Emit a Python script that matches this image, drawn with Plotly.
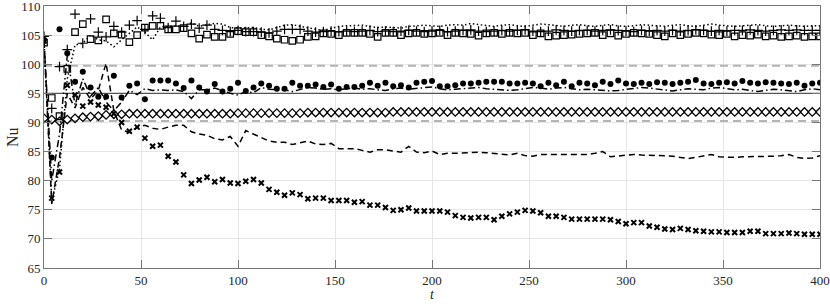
import plotly.graph_objects as go

# time samples (every 4 time units)
t = list(range(0, 401, 4))

nu_diamond = [
    90.7, 90.5, 90.2, 90.5, 90.7, 90.9, 91.0, 91.1, 91.3, 91.4,
    91.4, 91.5, 91.5, 91.5, 91.5, 91.5, 91.5, 91.5, 91.5, 91.5,
    91.5, 91.5, 91.5, 91.5, 91.5, 91.6, 91.6, 91.6, 91.6, 91.6,
    91.6, 91.6, 91.6, 91.6, 91.7, 91.7, 91.7, 91.7, 91.7, 91.7,
    91.7, 91.7, 91.7, 91.7, 91.7, 91.8, 91.8, 91.8, 91.8, 91.8,
    91.8, 91.8, 91.8, 91.8, 91.8, 91.8, 91.8, 91.8, 91.8, 91.8,
    91.8, 91.8, 91.8, 91.8, 91.8, 91.8, 91.8, 91.8, 91.8, 91.8,
    91.8, 91.8, 91.8, 91.8, 91.8, 91.8, 91.8, 91.8, 91.8, 91.8,
    91.8, 91.8, 91.8, 91.8, 91.8, 91.8, 91.8, 91.8, 91.8, 91.8,
    91.8, 91.8, 91.8, 91.8, 91.8, 91.8, 91.8, 91.8, 91.8, 91.8,
    91.8]

nu_circle = [
    104.2, 84.0, 106.0, 101.9, 97.0, 98.7, 96.0, 94.4, 94.4, 98.0,
    94.3, 96.3, 96.7, 94.0, 97.2, 97.2, 97.2, 96.7, 95.9, 97.2,
    96.0, 95.3, 96.6, 95.3, 95.8, 96.8, 95.4, 96.0, 96.7, 96.3,
    95.8, 95.8, 96.8, 96.3, 96.3, 96.5, 96.1, 96.5, 95.8, 96.1,
    96.1, 96.3, 96.8, 96.3, 96.8, 96.2, 96.4, 96.0, 96.8, 97.0,
    97.1, 96.2, 96.2, 96.4, 96.7, 96.7, 96.8, 97.0, 97.0, 97.0,
    96.7, 96.7, 96.8, 96.7, 96.2, 96.8, 96.4, 97.0, 96.2, 96.8,
    96.7, 96.4, 97.0, 96.6, 97.2, 96.7, 96.6, 96.8, 96.6, 96.9,
    96.8, 96.6, 96.8, 97.0, 97.3, 96.7, 96.6, 96.8, 96.9, 96.7,
    97.1, 96.8, 96.7, 96.9, 96.8, 96.7, 96.6, 96.8, 96.3, 96.7,
    96.8]

nu_dashdot = [
    104.0, 80.0, 88.0, 101.5, 93.0, 97.5, 94.5, 96.0, 93.5, 92.0,
    93.5, 95.5, 94.8, 95.8, 95.5, 95.6, 95.5, 95.6, 95.3, 94.1,
    95.6, 95.6, 95.9, 95.4, 95.0, 94.7, 95.3, 95.1, 96.0, 95.7,
    95.6, 95.6, 95.3, 95.7, 96.0, 95.9, 95.7, 95.8, 95.6, 95.8,
    95.9, 95.7, 95.8, 95.6, 95.5, 95.8, 95.9, 95.7, 95.8, 96.0,
    96.1, 95.8, 95.6, 95.7, 95.8, 95.9, 96.0, 95.8, 95.7, 95.6,
    95.5, 95.6, 95.8, 96.0, 95.9, 95.7, 95.9, 96.0, 95.8, 95.6,
    95.7, 95.6, 95.5, 95.4, 95.5, 95.7, 95.8, 96.0, 95.9, 95.7,
    95.5, 95.4, 95.6, 95.8, 95.7, 95.6, 95.9, 96.0, 95.8, 95.6,
    95.7, 95.5, 95.3, 95.5, 95.7, 95.6, 95.4, 95.3, 95.6, 95.8,
    95.6]

nu_dashed = [
    104.0, 76.0, 84.0, 95.0, 92.5, 96.0, 94.0, 95.5, 100.2, 92.0,
    88.7, 88.3, 89.2, 89.5, 89.0, 88.8, 89.2, 89.5, 89.5, 88.4,
    88.0, 87.8, 87.2, 87.0, 87.6, 85.9, 88.6, 88.0, 87.4, 86.8,
    86.6, 86.6, 86.2, 86.5, 86.8, 86.3, 86.2, 86.4, 85.5, 85.5,
    85.5, 85.2, 84.9, 85.3, 85.3, 85.1, 84.9, 85.9, 84.9, 84.8,
    85.1, 84.5, 84.7, 84.7, 84.8, 84.8, 84.9, 84.8, 84.7, 84.5,
    84.4, 84.7, 84.3, 84.2, 84.5, 84.5, 84.5, 84.5, 84.4, 84.4,
    84.5, 84.7, 85.0, 84.1, 84.2, 84.4, 84.5, 84.4, 84.4, 84.4,
    84.3, 84.2, 84.0, 83.8, 84.0, 84.2, 84.5, 84.1, 84.0, 84.0,
    84.1, 84.1, 84.2, 84.2, 84.2, 84.3, 84.5, 84.0, 83.8, 83.9,
    84.3]

nu_cross = [
    104.0, 77.0, 81.5, 96.4, 94.7, 92.8, 93.5, 93.0, 92.6, 91.5,
    90.0, 88.5, 89.2, 87.3, 85.9, 86.1, 84.2, 83.2, 81.0, 79.5,
    80.1, 80.6, 79.8, 80.2, 79.6, 79.5, 79.9, 80.2, 79.6, 78.5,
    78.0, 77.5, 77.9, 77.6, 76.9, 77.0, 77.0, 76.6, 76.6, 76.6,
    76.3, 76.4, 75.8, 75.8, 75.4, 74.9, 75.0, 75.3, 74.8, 74.8,
    74.8, 74.8, 74.6, 74.0, 73.7, 73.6, 73.7, 73.7, 73.3, 73.9,
    74.3, 74.6, 74.9, 74.8, 74.5, 73.9, 73.9, 73.7, 73.4, 73.4,
    73.4, 73.4, 73.4, 73.3, 73.0, 72.6, 72.8, 72.8, 72.2, 72.0,
    71.7, 71.6, 71.8, 71.6, 71.4, 71.3, 71.2, 71.2, 71.1, 71.1,
    71.1, 71.3, 71.3, 70.9, 70.9, 70.9, 71.0, 70.9, 70.8, 70.8,
    70.8]

nu_square = [
    103.7, 94.2, 91.1, 99.2, 105.5, 106.9, 104.3, 104.1, 107.7, 105.3,
    105.1, 103.8, 105.0, 106.3, 106.6, 106.6, 106.0, 106.0, 106.2, 105.3,
    104.4, 105.1, 104.7, 104.7, 105.2, 105.7, 105.5, 105.5, 105.0, 104.8,
    104.4, 104.2, 104.0, 104.2, 104.7, 104.8, 105.3, 105.2, 105.0, 105.4,
    105.4, 105.4, 105.2, 104.7, 105.4, 105.4, 105.0, 105.3, 105.4, 105.2,
    105.3, 105.4, 105.0, 105.4, 105.3, 105.2, 104.9, 105.3, 105.4, 105.2,
    105.4, 105.3, 105.4, 105.0, 105.3, 104.8, 104.9, 105.0, 105.1, 105.2,
    105.3, 105.4, 105.0, 105.3, 104.9, 105.2, 105.4, 105.3, 105.2, 105.0,
    104.8, 105.3, 105.0, 105.2, 105.4, 105.3, 105.1, 105.0, 105.2, 104.8,
    105.0, 104.9, 105.1, 104.8, 104.9, 104.7, 104.8, 104.9, 104.7, 104.8,
    104.8]

nu_plus = [
    104.8, 92.4, 99.6, 102.5, 108.6, 103.6, 107.8, 105.5, 104.7, 106.5,
    105.5, 106.7, 107.5, 106.0, 108.3, 107.9, 106.3, 107.4, 106.5, 106.9,
    106.2, 106.7, 106.0, 105.8, 105.6, 105.8, 105.6, 105.6, 105.5, 105.4,
    105.7, 106.0, 106.0, 106.0, 105.7, 105.5, 105.6, 105.7, 105.6, 105.7,
    105.6, 105.7, 105.8, 105.6, 105.7, 105.6, 105.7, 105.8, 105.7, 105.6,
    105.7, 105.8, 105.6, 105.7, 105.8, 105.9, 105.7, 105.6, 105.7, 105.8,
    105.7, 105.8, 105.9, 105.7, 105.6, 105.7, 105.9, 105.8, 105.7, 105.8,
    105.8, 105.7, 105.8, 105.9, 105.8, 105.7, 105.6, 105.8, 105.7, 105.8,
    105.7, 105.8, 105.7, 105.8, 105.9, 105.8, 105.7, 105.8, 105.7, 105.8,
    105.8, 105.9, 105.8, 105.7, 105.8, 105.9, 105.8, 105.9, 105.8, 105.8,
    105.8]

nu_dotted = [
    104.0, 76.5, 82.0, 97.5, 103.3, 103.6, 105.0, 104.2, 104.0, 103.0,
    104.2, 105.3, 106.4, 105.5, 104.2, 106.4, 106.5, 106.6, 106.5, 107.1,
    106.5, 106.8, 107.0, 106.9, 106.3, 106.2, 106.2, 106.3, 106.0, 105.9,
    106.3, 106.7, 106.8, 106.5, 106.2, 106.0, 105.8, 106.2, 106.5, 106.6,
    106.7, 106.7, 106.5, 106.3, 106.4, 106.3, 106.2, 106.5, 106.6, 106.7,
    106.6, 106.5, 106.7, 106.8, 106.7, 107.0, 106.8, 106.6, 106.5, 106.7,
    106.8, 106.6, 106.5, 106.7, 106.9, 106.8, 106.6, 106.5, 106.7, 106.8,
    106.6, 106.5, 106.7, 106.8, 106.6, 106.5, 106.6, 106.8, 106.7, 106.6,
    106.5, 106.7, 106.8, 106.6, 106.5, 106.7, 106.9, 106.7, 106.6, 106.5,
    106.6, 106.7, 106.8, 106.6, 106.5, 106.6, 106.7, 106.6, 106.5, 106.6,
    106.6]

# reference levels: mean and +/-5 %
ref_mean = 95.0
ref_band = [99.75, 90.25]

x_ticks = [0, 50, 100, 150, 200, 250, 300, 350, 400]
y_ticks = [65, 70, 75, 80, 85, 90, 95, 100, 105, 110]

for name, s in [("d", nu_diamond), ("c", nu_circle), ("dd", nu_dashdot), ("ds", nu_dashed),
                ("x", nu_cross), ("s", nu_square), ("p", nu_plus), ("dt", nu_dotted)]:
    assert len(s) == len(t), (name, len(s))

K = "#000000"
TXT = "#262626"
SERIF = "Liberation Serif"
fig = go.Figure()

# reference lines
fig.add_trace(go.Scatter(x=[0, 400], y=[ref_mean, ref_mean], mode="lines",
                         line=dict(color="#555555", width=1.2), hoverinfo="skip"))
for lvl in ref_band:
    fig.add_trace(go.Scatter(x=[0, 400], y=[lvl, lvl], mode="lines",
                             line=dict(color="#b4b4b4", width=2, dash="8px,5px"), hoverinfo="skip"))

fig.add_trace(go.Scatter(x=t, y=nu_dashed, mode="lines",
                         line=dict(color=K, width=1.5, dash="6px,4px")))
fig.add_trace(go.Scatter(x=t, y=nu_dashdot, mode="lines",
                         line=dict(color=K, width=1.5, dash="7px,3px,1.5px,3px")))
fig.add_trace(go.Scatter(x=t, y=nu_dotted, mode="lines",
                         line=dict(color=K, width=1.5, dash="1.5px,2.5px")))
fig.add_trace(go.Scatter(x=t, y=nu_diamond, mode="markers",
                         marker=dict(symbol="diamond-open", size=6.5, color=K, line=dict(width=1.3, color=K))))
fig.add_trace(go.Scatter(x=t, y=nu_circle, mode="markers",
                         marker=dict(symbol="circle", size=6, color=K, line=dict(width=0))))
fig.add_trace(go.Scatter(x=t, y=nu_cross, mode="markers",
                         marker=dict(symbol="x-thin", size=5, color=K, line=dict(width=2, color=K))))
fig.add_trace(go.Scatter(x=t, y=nu_square, mode="markers",
                         marker=dict(symbol="square-open", size=6.5, color=K, line=dict(width=1.2, color=K))))
fig.add_trace(go.Scatter(x=t, y=nu_plus, mode="markers",
                         marker=dict(symbol="cross-thin", size=7, color=K, line=dict(width=1.2, color=K))))

axis_common = dict(
    showline=True, linecolor="#777777", linewidth=1, mirror="ticks",
    ticks="inside", ticklen=8, tickcolor="#777777", tickwidth=1,
    showgrid=True, gridcolor="#e6e6e6", gridwidth=1, zeroline=False,
    automargin=False, ticklabeloverflow="allow",
    tickfont=dict(family=SERIF, size=13, color=TXT),
)

fig.update_layout(
    width=830, height=304,
    margin=dict(l=44, r=10, t=6, b=36),
    paper_bgcolor="white", plot_bgcolor="white",
    showlegend=False,
    xaxis=dict(range=[0, 400], tickvals=x_ticks, **axis_common),
    yaxis=dict(range=[65, 110], tickvals=y_ticks, **axis_common),
    annotations=[
        dict(text="<i>t</i>", xref="paper", yref="paper", x=0.5, y=0, xanchor="center",
             yanchor="bottom", yshift=-36, showarrow=False,
             font=dict(family=SERIF, size=14, color=TXT)),
        dict(text="Nu", xref="paper", yref="paper", x=0, y=0.5, xanchor="center",
             yanchor="middle", xshift=-32, textangle=-90, showarrow=False,
             font=dict(family=SERIF, size=16, color=TXT)),
    ],
)

fig.write_html("out.html", config={"displayModeBar": False},
               post_script="document.body.style.margin='0px';")
